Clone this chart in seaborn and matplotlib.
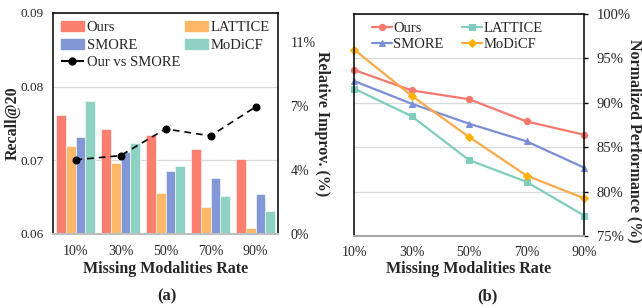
import pandas as pd
import seaborn as sns
import matplotlib.pyplot as plt
from matplotlib.lines import Line2D
from matplotlib.patches import Patch

rates = ['10%', '30%', '50%', '70%', '90%']
methods = ['Ours', 'LATTICE', 'SMORE', 'MoDiCF']

# (a) Recall@20
recall_ours = [0.0761, 0.0742, 0.0735, 0.0715, 0.0702]
recall_lattice = [0.0719, 0.0696, 0.0655, 0.0637, 0.0608]
recall_smore = [0.0731, 0.0711, 0.0685, 0.0676, 0.0654]
recall_modicf = [0.0781, 0.0723, 0.0692, 0.0651, 0.0631]
# relative improvement Ours vs SMORE (%)
rel_improv = [4.25, 4.49, 6.02, 5.62, 7.28]
rel_ticks = [0, 3.667, 7.333, 11.0]
rel_tick_labels = ['0%', '4%', '7%', '11%']

# (b) normalized performance (%)
norm_ours = [93.7, 91.4, 90.4, 87.9, 86.4]
norm_lattice = [91.6, 88.5, 83.55, 81.1, 77.3]
norm_smore = [92.45, 89.9, 87.65, 85.66, 82.7]
norm_modicf = [96.0, 90.8, 86.15, 81.8, 79.25]

bar_colors = {'Ours': '#FA7F6F', 'LATTICE': '#FFB966', 'SMORE': '#8298D6', 'MoDiCF': '#8ED2C4'}

sns.set_theme(style='white')
plt.rcParams['font.family'] = ['Liberation Serif', 'DejaVu Serif']

fig = plt.figure(figsize=(6.42, 3.08), dpi=100)
ax = fig.add_axes([0.0826, 0.2403, 0.3505, 0.7175])
bx = fig.add_axes([0.5514, 0.2338, 0.3583, 0.7208])

# ---- (a) ----
df = pd.DataFrame({
    'rate': rates * 4,
    'method': sum([[m] * 5 for m in methods], []),
    'recall': recall_ours + recall_lattice + recall_smore + recall_modicf,
})
sns.barplot(data=df, x='rate', y='recall', hue='method', hue_order=methods,
            palette=bar_colors, ax=ax, width=0.86, edgecolor='white', linewidth=0.4,
            legend=False, saturation=1)
ax.set_ylim(0.06, 0.09)
ax.set_yticks([0.06, 0.07, 0.08, 0.09])
ax.set_yticklabels(['0.06', '0.07', '0.08', '0.09'], fontsize=9.5)
ax.set_xlim(-0.5, 4.5)
ax.yaxis.grid(True, color='#D9D9D9', linewidth=0.9)
ax.set_axisbelow(True)
ax.tick_params(axis='both', length=0, pad=7)
ax.tick_params(axis='x', labelsize=10, pad=8)
for s in ['left', 'top', 'right']:
    ax.spines[s].set_color('black')
    ax.spines[s].set_linewidth(1.1)
ax.spines['bottom'].set_color('#BFBFBF')
ax.spines['bottom'].set_linewidth(1.5)
ax.set_xlabel('Missing Modalities Rate', fontsize=11.5, fontweight='bold', va='center')
ax.set_ylabel('Recall@20', fontsize=11.5, fontweight='bold', va='center')
ax.xaxis.set_label_coords(0.5, -0.158)
ax.yaxis.set_label_coords(-0.18, 0.5)

ax2 = ax.twinx()
sns.lineplot(x=list(range(5)), y=rel_improv, ax=ax2, color='black', linestyle=(0, (4, 3)),
             linewidth=1.2, marker='o', markersize=5, markeredgecolor='black')
ax2.set_ylim(0, 12.66)
ax2.set_yticks(rel_ticks)
ax2.set_yticklabels(rel_tick_labels, fontsize=10)
ax2.tick_params(axis='y', length=0, pad=9)
for s in ax2.spines.values():
    s.set_visible(False)
ax2.set_ylabel('Relative Improv. (%)', fontsize=11.5, fontweight='bold', rotation=270,
               va='center')
ax2.yaxis.set_label_coords(1.195, 0.5)

handles = [Patch(color=bar_colors['Ours']), Patch(color=bar_colors['SMORE']),
           Line2D([], [], color='black', linestyle=(0, (4, 3)), marker='o', markersize=5),
           Patch(color=bar_colors['LATTICE']), Patch(color=bar_colors['MoDiCF'])]
labels = ['Ours', 'SMORE', 'Our vs SMORE', 'LATTICE', 'MoDiCF']
ax.legend(handles, labels, ncol=2, loc='upper left', bbox_to_anchor=(-0.01, 1.01),
          frameon=False, fontsize=10.5, handlelength=1.55, handletextpad=0.2,
          columnspacing=0.35, labelspacing=0.3, borderaxespad=0.3)

# ---- (b) ----
line_styles = [('Ours', norm_ours, '#F6776E', '#F6776E', 'o'),
               ('LATTICE', norm_lattice, '#7FCDBB', '#7FCDBB', 's'),
               ('SMORE', norm_smore, '#7B8FD6', '#7B8FD6', '^'),
               ('MoDiCF', norm_modicf, '#FDA94A', '#FFB300', 'D')]
for name, vals, col, mcol, mk in line_styles:
    sns.lineplot(x=list(range(5)), y=vals, ax=bx, color=col, linewidth=1.6, marker=mk,
                 markersize=4.5 if mk != 'D' else 3.8, markerfacecolor=mcol,
                 markeredgecolor=mcol, label=name, clip_on=False)
bx.set_xlim(0, 4)
bx.set_xticks(range(5))
bx.set_xticklabels(rates, fontsize=10)
bx.set_ylim(75, 100)
bx.set_yticks([75, 80, 85, 90, 95, 100])
bx.set_yticklabels(['75%', '80%', '85%', '90%', '95%', '100%'], fontsize=10.5)
bx.yaxis.tick_right()
bx.yaxis.set_label_position('right')
bx.yaxis.grid(True, color='#D9D9D9', linewidth=0.9)
bx.set_axisbelow(True)
bx.tick_params(axis='y', length=3, width=1, color='black', pad=6, direction='out')
bx.tick_params(axis='x', length=0, pad=7)
for s in ['left', 'top', 'right']:
    bx.spines[s].set_color('black')
    bx.spines[s].set_linewidth(1.1)
bx.spines['bottom'].set_color('#A6A6A6')
bx.spines['bottom'].set_linewidth(1.5)
bx.set_xlabel('Missing Modalities Rate', fontsize=11.5, fontweight='bold', va='center')
bx.set_ylabel('Normalized Performance (%)', fontsize=11.5, fontweight='bold', rotation=270,
              va='center')
bx.xaxis.set_label_coords(0.5, -0.15)
bx.yaxis.set_label_coords(1.218, 0.43)
h, l = bx.get_legend_handles_labels()
order = [0, 2, 1, 3]
bx.legend([h[i] for i in order], [l[i] for i in order], ncol=2, loc='upper left',
          bbox_to_anchor=(0.035, 1.01), frameon=False, fontsize=10.5, handlelength=1.35,
          handletextpad=0.1, columnspacing=1.25, labelspacing=0.2, borderaxespad=0.3)

fig.text(0.260, 0.039, '(a)', ha='center', va='center', fontsize=12, fontweight='bold')
fig.text(0.759, 0.039, '(b)', ha='center', va='center', fontsize=12, fontweight='bold')

fig.savefig('out.png', dpi=100)
